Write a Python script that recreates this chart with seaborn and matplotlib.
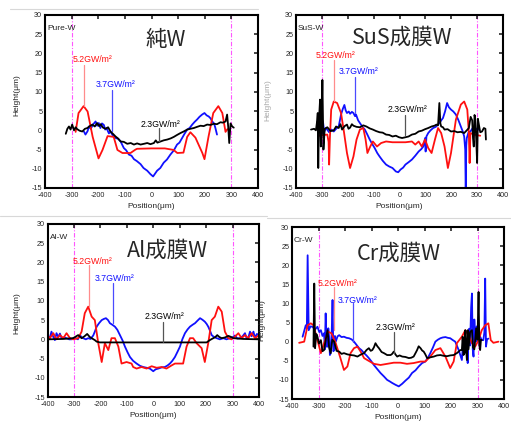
import matplotlib
matplotlib.use("Agg")
import matplotlib.pyplot as plt
import seaborn as sns
import pandas as pd
from matplotlib import font_manager
from matplotlib.lines import Line2D

# ---------------- data ----------------
SERIES = ["2.3GW/m²", "3.7GW/m²", "5.2GW/m²"]
X_TICKS = [-400, -300, -200, -100, 0, 100, 200, 300, 400]
Y_TICKS = [-15, -10, -5, 0, 5, 10, 15, 20, 25, 30]
TITLES = ["純W", "SuS成膜W", "Al成膜W", "Cr成膜W"]
TAGS = ["Pure-W", "SuS-W", "Al-W", "Cr-W"]

# Panel 1 : Pure-W
P1_RED_X = [-285, -274, -255, -240, -221, -199, -184, -165, -142, -128, -109, -79, -60, -54, 0, 50, 83, 97, 120, 134, 146, 165, 191, 199, 214, 232, 251, 266, 278, 285]
P1_RED_Y = [-0.4, 4.5, 6.3, 4.9, -1.7, -7.3, -5.1, -1.5, -1.7, -5.1, -5.9, -5.9, -5.0, -4.8, -4.7, -4.7, -5.1, -5.9, -5.8, -1.7, -0.5, -1.9, -5.9, -7.5, -1.7, 4.5, 6.3, 4.5, -0.4, 0.3]
P1_BLUE_X = [-254, -248, -240, -235, -228, -220, -210, -204, -198, -192, -186, -179, -174, -169, -160, -154, -145, -135, -125, -116, -104, -95, -85, -75, -66, -55, -41, -30, -16, -4, 6, 14, 21, 33, 46, 58, 71, 84, 96, 105, 115, 124, 134, 143, 153, 162, 171, 180, 190, 199, 207, 215, 222, 228, 235, 240, 246]
P1_BLUE_Y = [-0.3, -1.1, -0.2, 1.0, 0.4, 1.5, 2.3, 1.2, 1.9, 0.6, 1.8, 1.4, 0.2, 0.6, -0.8, -0.3, -1.4, -2.0, -2.2, -2.9, -4.6, -5.2, -6.3, -6.6, -7.5, -8.0, -8.8, -9.8, -10.5, -11.4, -12.0, -11.2, -10.5, -9.8, -8.4, -7.6, -6.3, -5.2, -3.7, -3.2, -2.0, -0.9, 0.2, 0.6, 1.5, 2.2, 2.8, 3.5, 4.1, 4.5, 3.9, 3.6, 3.1, 2.3, 1.8, 0.6, -1.1]
P1_BLACK_X = [-322, -316, -310, -304, -298, -291, -285, -279, -270, -260, -250, -241, -232, -222, -213, -204, -197, -191, -182, -172, -163, -154, -145, -135, -126, -116, -104, -91, -78, -66, -54, -41, -28, -16, -4, 9, 16, 22, 34, 46, 59, 72, 84, 96, 109, 121, 134, 146, 159, 171, 184, 196, 209, 221, 234, 246, 259, 268, 278, 284, 288, 292, 297, 303, 309]
P1_BLACK_Y = [-0.9, 0.4, 1.0, 0.2, 1.5, 0.0, 0.8, 0.3, -0.1, -0.3, 0.4, 0.6, 1.1, 1.5, 1.0, 1.9, 1.1, 1.6, 0.7, 0.4, 0.8, -0.3, -0.9, -1.6, -2.1, -2.9, -3.0, -3.5, -3.3, -3.7, -3.4, -3.7, -3.5, -3.3, -3.6, -3.3, -2.6, -3.2, -2.9, -2.6, -2.4, -2.1, -1.7, -1.2, -0.7, -0.3, 0.2, 0.4, 0.6, 0.9, 1.2, 1.1, 1.5, 1.4, 1.7, 1.6, 2.1, 2.0, 2.3, 4.1, 1.0, -3.3, 1.8, 1.0, 0.7]

# Panel 2 : SuS-W
P2_RED_X = [-310, -290, -279, -274, -272, -269, -264, -254, -241, -226, -216, -203, -191, -178, -166, -153, -140, -131, -124, -113, -103, -87, -71, -52, -27, -2, 23, 48, 61, 74, 86, 99, 111, 124, 137, 149, 161, 174, 187, 199, 218, 237, 250, 262, 268, 271, 274, 287, 312]
P2_RED_Y = [-1.4, -1.2, -1.1, -3.0, -8.9, -2.0, 5.4, 7.5, 7.1, 4.5, 0.2, -5.9, -9.8, -6.8, -2.4, 0.2, 0.6, -2.4, -5.9, -4.2, -2.9, -4.2, -3.3, -2.9, -3.1, -3.1, -3.1, -2.9, -3.7, -2.9, -4.2, -2.4, -4.6, -5.9, -2.4, 0.6, -0.7, -4.2, -9.8, -5.9, 2.8, 6.7, 7.5, 5.4, -0.7, -8.5, -0.7, -1.1, -1.4]
P2_BLUE_X = [-304, -300, -296, -291, -284, -272, -263, -254, -245, -235, -226, -219, -213, -208, -203, -196, -191, -184, -178, -172, -168, -160, -153, -143, -134, -125, -115, -105, -96, -86, -77, -65, -52, -40, -27, -14, -5, 4, 14, 23, 35, 48, 61, 74, 84, 92, 99, 101, 104, 111, 120, 130, 140, 149, 158, 168, 176, 184, 191, 199, 208, 218, 228, 237, 245, 250, 254, 256, 258, 260, 267, 274, 283, 293, 300, 306]
P2_BLUE_Y = [1.0, -1.0, 2.4, -0.3, 0.6, -0.5, 0.2, -0.3, 0.4, 1.0, 4.1, 5.6, 6.6, 5.2, 4.5, 4.9, 4.3, 4.8, 4.5, 3.7, 4.1, 2.6, 1.9, 0.9, 0.2, -1.0, -2.4, -3.6, -4.6, -5.9, -6.8, -7.9, -8.9, -9.4, -9.8, -10.7, -10.9, -10.2, -9.7, -8.9, -8.3, -7.6, -6.6, -5.5, -4.9, -4.2, -2.0, -5.5, -1.6, -0.7, 0.0, 0.6, 0.9, 1.5, 2.3, 3.2, 4.9, 7.1, 6.0, 5.4, 4.9, 4.1, 2.6, 1.0, -0.4, -1.6, -5.0, -16.5, -4.0, -2.0, -0.5, -0.3, 0.6, 0.6, 0.2, 0.2]
P2_BLACK_X = [-342, -330, -323, -318, -316, -314, -311, -307, -304, -301, -298, -294, -289, -279, -266, -254, -245, -235, -228, -222, -212, -203, -197, -191, -184, -178, -166, -153, -140, -128, -115, -103, -90, -77, -65, -52, -40, -27, -14, -2, 10, 23, 35, 48, 61, 74, 86, 99, 111, 124, 135, 143, 149, 154, 158, 161, 168, 174, 186, 199, 212, 224, 237, 250, 260, 268, 275, 281, 284, 287, 290, 293, 296, 300, 303, 306, 312, 319, 326, 332, 334]
P2_BLACK_Y = [0.2, 0.4, 0.0, 2.6, 4.5, -9.8, 3.0, 8.0, -4.2, 2.2, 13.1, -5.0, 0.4, 0.8, -0.2, 0.0, 1.0, 0.6, 1.6, 0.2, 1.1, 1.5, 0.4, 0.7, 1.6, 1.2, 0.9, 0.8, 1.3, 1.0, 0.5, 0.2, -0.2, -0.5, -0.6, -1.1, -1.2, -1.6, -1.4, -1.8, -2.0, -1.8, -1.6, -1.1, -0.9, -0.3, -0.1, 0.3, 0.6, 1.0, 1.2, 1.5, 1.3, 7.1, 1.8, 1.0, 0.8, 0.2, 0.3, -0.3, -0.2, -0.5, -0.4, -0.7, 0.0, 0.6, 3.5, 2.6, -2.0, -4.2, 4.0, 2.9, -1.5, -8.5, 3.0, 1.8, -0.5, -0.3, 0.6, 0.4, -2.4]

# Panel 3 : Al-W
P3_RED_X = [-400, -391, -378, -366, -353, -340, -328, -315, -303, -284, -271, -259, -246, -233, -221, -208, -195, -183, -170, -158, -145, -132, -120, -101, -82, -76, -63, -44, -25, -6, 13, 32, 50, 69, 82, 95, 113, 126, 139, 151, 164, 183, 195, 208, 221, 233, 246, 259, 271, 284, 296, 309, 322, 334, 347, 359, 372, 385, 400]
P3_RED_Y = [1.1, 0.3, 1.6, 0.0, 1.1, 0.3, 1.6, 0.3, 0.0, 0.3, 2.0, 6.8, 8.5, 5.9, 5.0, -1.0, -5.9, -1.0, -2.8, 0.3, 0.3, -1.9, -6.3, -5.9, -6.3, -7.2, -7.6, -7.2, -7.6, -7.0, -7.4, -7.2, -7.6, -6.8, -6.3, -6.3, -6.3, -1.9, 0.3, 0.3, -1.0, -2.3, -5.9, -1.0, 5.0, 5.9, 8.5, 7.2, 2.0, 0.3, 0.0, 0.7, 1.6, 0.3, 1.1, 0.3, 1.6, 0.3, 1.1]
P3_BLUE_X = [-400, -392, -385, -378, -372, -366, -359, -353, -347, -338, -328, -318, -309, -301, -293, -285, -277, -271, -265, -255, -246, -237, -227, -221, -214, -205, -195, -187, -179, -171, -164, -155, -145, -136, -126, -116, -107, -97, -88, -76, -63, -50, -38, -25, -13, 0, 9, 19, 32, 44, 54, 63, 72, 82, 92, 101, 110, 120, 130, 139, 149, 158, 168, 177, 186, 195, 202, 208, 215, 221, 230, 240, 252, 265, 277, 290, 300, 309, 318, 328, 338, 347, 353, 359, 366, 372, 379, 385, 392, 400]
P3_BLUE_Y = [1.0, 0.2, 2.0, 0.6, -0.2, 1.6, 0.6, 1.5, 0.3, 0.5, 0.3, 0.0, 0.0, 0.4, 0.3, 0.0, 1.1, 0.5, 0.3, 0.0, 0.3, 0.1, 1.0, 2.0, 3.3, 4.2, 5.0, 5.3, 5.5, 5.0, 4.2, 3.8, 3.3, 2.5, 1.1, -0.3, -1.9, -3.4, -4.6, -5.6, -6.3, -6.9, -7.2, -7.4, -7.6, -8.3, -7.8, -7.6, -7.3, -7.2, -6.8, -6.3, -5.6, -4.6, -3.2, -1.9, 0.0, 1.6, 2.6, 3.3, 3.8, 4.2, 4.9, 5.5, 5.1, 4.6, 4.0, 3.3, 2.2, 1.1, 0.6, 0.3, 0.0, 0.3, 0.0, 0.3, 0.5, 1.0, 0.2, 0.3, 0.8, 1.6, 0.3, 0.3, 2.0, 0.8, 2.0, 0.4, 1.4, 1.1]
P3_BLACK_X = [-400, -340, -303, -284, -271, -260, -250, -240, -233, -221, -214, -202, -100, 0, 100, 202, 214, 227, 235, 242, 250, 259, 272, 284, 295, 303, 340, 400]
P3_BLACK_Y = [0.0, 0.1, 0.3, 1.1, 0.3, 0.8, 1.4, 0.6, 0.3, -0.2, -0.6, -0.8, -0.8, -0.8, -0.8, -0.8, -0.2, 0.3, 0.6, 1.1, 0.6, 0.3, 0.5, 0.9, 0.6, 0.3, 0.1, 0.0]

# Panel 4 : Cr-W
P4_RED_X = [-373, -354, -341, -329, -319, -304, -291, -279, -264, -251, -235, -219, -204, -191, -179, -166, -153, -141, -128, -116, -91, -66, -41, -16, 9, 34, 59, 85, 103, 122, 141, 160, 179, 197, 210, 222, 241, 254, 266, 279, 291, 304, 316, 329, 341, 350, 360, 379]
P4_RED_Y = [-0.3, 0.0, 4.3, 4.8, 4.3, 0.4, -3.0, -0.4, 2.6, 2.2, -0.4, -3.9, -7.4, -6.5, -3.0, -1.7, -1.3, -2.6, -4.3, -4.8, -5.8, -6.1, -5.8, -5.5, -5.5, -5.8, -5.6, -5.2, -5.2, -3.9, -2.2, -1.7, -3.9, -6.9, -5.2, -0.4, 1.3, 3.0, 1.7, -0.4, -1.3, 0.4, 3.0, 4.3, 4.8, 0.4, -0.3, 0.0]
P4_BLUE_X = [-360, -348, -344, -341, -337, -330, -323, -313, -304, -297, -291, -285, -279, -276, -273, -269, -266, -263, -260, -257, -254, -250, -247, -244, -241, -238, -235, -228, -222, -213, -204, -194, -185, -175, -166, -157, -147, -138, -128, -119, -110, -100, -91, -78, -66, -53, -41, -31, -22, -9, 3, 16, 28, 41, 53, 66, 78, 91, 103, 113, 122, 132, 141, 150, 160, 169, 179, 188, 197, 207, 216, 222, 229, 235, 241, 244, 247, 252, 256, 260, 263, 266, 269, 272, 276, 279, 282, 285, 288, 291, 294, 297, 303, 310, 316, 322, 326, 329, 332, 336, 341]
P4_BLUE_Y = [1.3, 4.3, 3.5, 22.6, 3.0, 4.0, 3.9, 3.2, 3.9, 2.5, 3.0, 1.5, 2.2, -2.0, 7.4, -1.3, -1.3, 3.5, 1.3, -3.5, -3.0, 2.8, 10.9, -2.5, -2.2, 1.5, 0.0, 1.4, 1.7, 1.2, 1.3, 1.0, 0.9, 0.6, 0.0, -0.8, -1.7, -2.2, -3.0, -3.6, -4.3, -5.2, -6.1, -7.2, -8.2, -9.1, -10.0, -10.4, -10.8, -11.3, -11.7, -11.0, -10.2, -9.4, -8.2, -7.5, -6.5, -5.6, -5.2, -4.2, -3.0, -1.5, 0.0, 0.5, 0.9, 1.1, 1.2, 1.0, 0.9, 0.4, 0.0, -1.0, -2.2, -3.5, -4.8, -2.0, -2.2, 0.0, -1.5, -0.4, -5.6, 2.0, 3.4, -1.0, 9.0, 12.6, -2.0, -3.9, 5.8, 2.0, 0.0, 4.0, 0.5, 1.3, 0.4, 0.4, 2.5, 16.5, -1.3, 0.6, 0.8]
P4_BLACK_X = [-319, -316, -313, -308, -304, -298, -291, -285, -279, -272, -266, -260, -254, -248, -241, -232, -222, -213, -204, -192, -179, -166, -153, -141, -128, -119, -110, -103, -97, -91, -85, -78, -72, -62, -53, -41, -28, -22, -16, -9, -3, 6, 16, 28, 41, 50, 59, 66, 72, 78, 85, 91, 97, 103, 110, 122, 135, 147, 160, 172, 185, 197, 210, 222, 229, 235, 241, 244, 247, 251, 254, 257, 260, 263, 266, 272, 279, 283, 288, 292, 295, 300, 304, 307, 310, 313, 316]
P4_BLACK_Y = [-1.3, 15.2, -1.7, 2.0, 1.3, -0.5, 0.4, -2.5, -2.2, 0.8, 3.0, -1.5, -3.0, 0.5, 0.0, -2.4, -2.6, -3.2, -3.0, -3.3, -3.5, -3.6, -3.9, -3.4, -3.0, -2.2, -1.7, -2.4, -2.2, -1.5, -0.4, -1.2, -1.7, -2.7, -3.0, -3.5, -3.5, -3.2, -2.6, -3.4, -3.9, -3.6, -3.9, -4.0, -4.3, -4.2, -3.9, -3.0, -2.2, -1.2, -1.7, -2.3, -2.6, -3.3, -4.3, -4.1, -3.9, -3.6, -3.5, -3.7, -3.8, -3.6, -3.5, -3.0, -2.6, -2.2, -2.2, 1.3, -3.5, -3.0, 3.0, -2.0, -4.8, 3.0, -2.0, 2.5, 3.0, -1.5, -2.0, 1.0, 3.5, 0.5, 13.0, -1.0, -2.2, 0.5, 0.4]

# annotation anchors (text left x, text y, leader x, leader top y, leader bottom y)
ANN = [
    [(-297, 18.3, -254, 17.0, 6.2), (-210, 11.8, -150, 10.5, -0.3), (-41, 1.5, 27, 0.6, -2.9)],
    [(-323, 19.4, -254, 18.3, 7.5), (-235, 15.3, -172, 14.0, 4.5), (-46, 5.3, 23, 4.0, -1.1)],
    [(-305, 20.3, -242, 19.4, 8.5), (-221, 15.9, -154, 14.6, 4.2), (-32, 5.9, 38, 4.6, -0.6)],
    [(-304, 15.2, -241, 14.3, 3.0), (-229, 10.9, -169, 10.0, 0.0), (-85, 3.8, -16, 2.6, -3.0)],
]
TITLE_POS = [(52, 23.5), (11, 24.0), (53, 23.0), (3, 23.0)]

# ---------------- style ----------------
sns.set_style("white")
names = {f.name for f in font_manager.fontManager.ttflist}
LAT = "Liberation Sans" if "Liberation Sans" in names else "DejaVu Sans"
plt.rcParams["font.family"] = [LAT, "DejaVu Sans"]
plt.rcParams["axes.unicode_minus"] = False
CJK = ["Noto Sans CJK JP", "DejaVu Sans"]

RED, BLUE, BLACK = "#ff1010", "#1010ff", "#000000"
palette = {SERIES[0]: BLACK, SERIES[1]: BLUE, SERIES[2]: RED}
lead_col = {SERIES[0]: "#555555", SERIES[1]: "#4a4aff", SERIES[2]: "#ff8c8c"}

panels = [
    (P1_BLACK_X, P1_BLACK_Y, P1_BLUE_X, P1_BLUE_Y, P1_RED_X, P1_RED_Y),
    (P2_BLACK_X, P2_BLACK_Y, P2_BLUE_X, P2_BLUE_Y, P2_RED_X, P2_RED_Y),
    (P3_BLACK_X, P3_BLACK_Y, P3_BLUE_X, P3_BLUE_Y, P3_RED_X, P3_RED_Y),
    (P4_BLACK_X, P4_BLACK_Y, P4_BLUE_X, P4_BLUE_Y, P4_RED_X, P4_RED_Y),
]

W, H = 511, 421
rects_px = [(45, 15, 258, 188), (296, 15, 503, 188), (47.5, 224, 259, 397), (292, 227, 504, 399)]

fig = plt.figure(figsize=(W / 100, H / 100), dpi=100)
fig.patch.set_facecolor("white")

# slide separators
for (x0, y0, x1, y1) in [(10, 9, 258, 9), (0, 216, 267, 216), (267, 218, 511, 218)]:
    fig.add_artist(Line2D([x0 / W, x1 / W], [1 - y0 / H, 1 - y1 / H], color="#d8d8d8", lw=0.8))

ylab_pos = [(17, 95), (268, 100), (17, 313), (262, 320)]

for i, (pdat, r) in enumerate(zip(panels, rects_px)):
    x0, y0, x1, y1 = r
    ax = fig.add_axes([x0 / W, 1 - y1 / H, (x1 - x0) / W, (y1 - y0) / H])
    frames = []
    for name, xs, ys in [(SERIES[1], pdat[2], pdat[3]), (SERIES[2], pdat[4], pdat[5]), (SERIES[0], pdat[0], pdat[1])]:
        frames.append(pd.DataFrame({"Position": xs, "Height": ys, "Series": name}))
    for df in frames:
        sns.lineplot(data=df, x="Position", y="Height", hue="Series", palette=palette,
                     sort=False, estimator=None, legend=False, lw=1.3, ax=ax)
    for xv in (-300, 300):
        ax.axvline(xv, color="#ff55ff", lw=0.8, ls=(0, (4, 1.5, 1, 1.5)), zorder=0)
    # annotations
    for (tx, ty, lx, ly0, ly1), name in zip(ANN[i], [SERIES[2], SERIES[1], SERIES[0]]):
        ax.plot([lx, lx], [ly0, ly1], color=lead_col[name], lw=0.9, zorder=5)
        ax.text(tx, ty, name, color=palette[name], fontsize=6.3, ha="left", va="center", zorder=6)
    ax.text(-392, 26.5, TAGS[i], fontsize=6, ha="left", va="center")
    ax.text(TITLE_POS[i][0], TITLE_POS[i][1], TITLES[i], fontsize=15.5, family=CJK,
            ha="center", va="center")
    ax.set_xlim(-400, 400)
    ax.set_ylim(-15, 30)
    ax.set_xticks(X_TICKS)
    ax.set_yticks(Y_TICKS)
    ax.tick_params(direction="in", length=3, width=1.2, top=True, right=True,
                   labelsize=5.2, pad=2)
    ax.tick_params(axis="x", pad=3)
    for s in ax.spines.values():
        s.set_linewidth(1.5)
        s.set_color("black")
    ax.set_xlabel("Position(μm)", fontsize=6, labelpad=3)
    ax.set_ylabel("")
    lx, ly = ylab_pos[i]
    fig.text(lx / W, 1 - ly / H, "Height(μm)", rotation=90, fontsize=6,
             ha="center", va="center", color="#222222" if i != 1 else "#aaaaaa")

fig.savefig("out.png", dpi=100, facecolor="white")
